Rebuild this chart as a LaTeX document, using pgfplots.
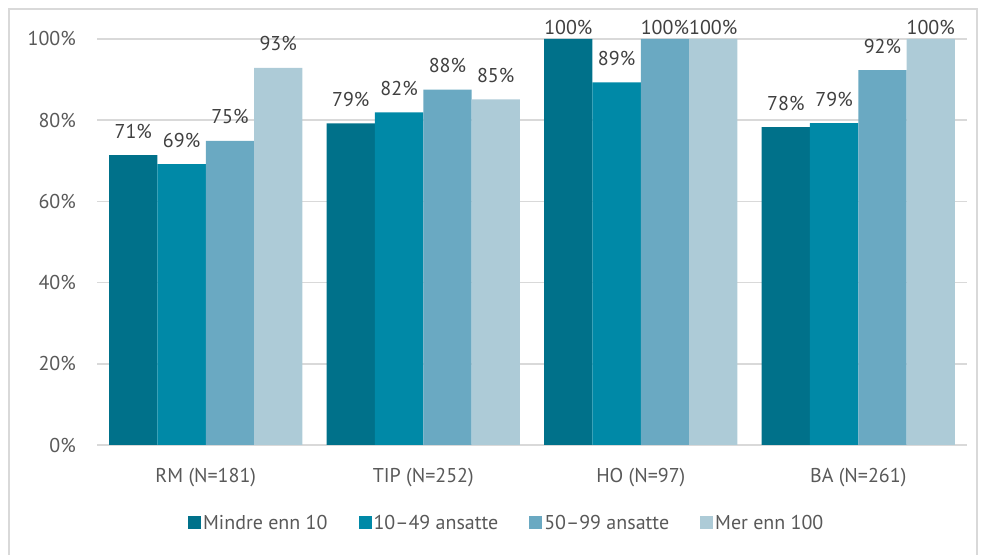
\documentclass[border=0pt]{standalone}
\usepackage{fontspec}
\setmainfont{PT Sans}
\usepackage{pgfplots}
\pgfplotsset{compat=1.18}
\definecolor{c1}{HTML}{00718A}
\definecolor{c2}{HTML}{0089A7}
\definecolor{c3}{HTML}{6AA9C2}
\definecolor{c4}{HTML}{ADCBD7}
\definecolor{gridc}{HTML}{D9D9D9}
\definecolor{tickc}{HTML}{595959}
\definecolor{labc}{HTML}{404040}
\newcommand{\fs}{\fontsize{20bp}{24bp}\selectfont}
\pgfplotstableread{
x y l
0 71.4 71
1 79.2 79
2 100 100
3 78.3 78
}\dA
\pgfplotstableread{
x y l
0 69.2 69
1 81.9 82
2 89.3 89
3 79.3 79
}\dB
\pgfplotstableread{
x y l
0 74.9 75
1 87.5 88
2 100 100
3 92.3 92
}\dC
\pgfplotstableread{
x y l
0 92.9 93
1 85.1 85
2 100 100
3 100 100
}\dD
\begin{document}
\begin{tikzpicture}[x=1bp,y=1bp]
\useasboundingbox (0,0) rectangle (983,555);
\draw[gridc, line width=1.5bp] (9,-2) -- (9,546) -- (977,546) -- (977,-2);
\begin{axis}[
  at={(97bp,110bp)}, anchor=south west,
  width=870bp, height=406bp, scale only axis,
  ybar=0pt, bar width=0.222,
  ymin=0, ymax=100, xmin=-0.5, xmax=3.5,
  clip=false,
  axis line style={draw=none},
  major tick length=0pt,
  ytick={0,20,...,100},
  yticklabel={\pgfmathprintnumber[assume math mode=true]{\tick}\%},
  yticklabel style={font=\fs, text=tickc, anchor=east, inner sep=0pt, xshift=-21bp},
  xtick={0,1,2,3},
  xticklabels={RM (N=181), TIP (N=252), HO (N=97), BA (N=261)},
  xticklabel style={font=\fs, text=tickc, anchor=base, inner sep=0pt, yshift=-38bp},
  ymajorgrids, grid style={gridc, line width=1.5bp},
  nodes near coords={\pgfplotspointmeta\%},
  point meta=explicit symbolic,
  visualization depends on={rawy \as \yv},
  nodes near coords style={font=\fs, text=labc, anchor=base, inner sep=0pt, yshift={(\yv>99)?5:17}},
  legend columns=4,
  legend style={at={(0.471,-0.192)}, anchor=center, draw=none, fill=none, font=\fs, text=tickc,
    inner sep=0pt, nodes={inner sep=2bp},
    /tikz/every even column/.append style={column sep=29bp}},
  legend image code/.code={\fill[#1] (0bp,-6.5bp) rectangle (13bp,6.5bp);},
]
\addplot[bar shift=-0.333, fill=c1, draw=none] table[x=x,y=y,meta=l] {\dA};
\addplot[bar shift=-0.111, fill=c2, draw=none] table[x=x,y=y,meta=l] {\dB};
\addplot[bar shift=0.111, fill=c3, draw=none] table[x=x,y=y,meta=l] {\dC};
\addplot[bar shift=0.333, fill=c4, draw=none] table[x=x,y=y,meta=l] {\dD};
\legend{Mindre enn 10, 10–49 ansatte, 50–99 ansatte, Mer enn 100}
\end{axis}
\end{tikzpicture}
\end{document}
